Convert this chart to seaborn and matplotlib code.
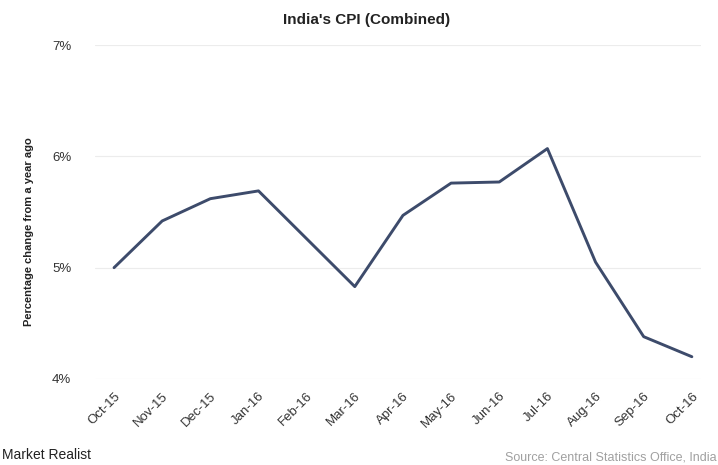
import matplotlib
matplotlib.use("Agg")
import matplotlib.pyplot as plt
import seaborn as sns
import pandas as pd

months = ["Oct-15", "Nov-15", "Dec-15", "Jan-16", "Feb-16", "Mar-16", "Apr-16",
          "May-16", "Jun-16", "Jul-16", "Aug-16", "Sep-16", "Oct-16"]
cpi = [5.00, 5.42, 5.62, 5.69, 5.26, 4.83, 5.47, 5.76, 5.77, 6.07, 5.05, 4.38, 4.20]
yticks = [4, 5, 6, 7]
ytick_labels = ["4%", "5%", "6%", "7%"]

sns.set_theme(style="white")
plt.rcParams['font.family'] = ['Liberation Sans', 'DejaVu Sans']

df = pd.DataFrame({"month": months, "cpi": cpi, "idx": range(len(months))})

fig = plt.figure(figsize=(7.18, 4.65), dpi=100)
ax = fig.add_axes([0.132, 0.185, 0.845, 0.718])
sns.lineplot(data=df, x="idx", y="cpi", ax=ax, color="#3d4b6b", linewidth=2.1)

ax.set_xlim(-0.4, len(months) - 1 + 0.2)
ax.set_ylim(4, 7)
ax.set_yticks(yticks)
ax.set_yticklabels(ytick_labels, fontsize=9.5, color="#333333")
ax.set_xticks(range(len(months)))
ax.set_xticklabels(months, rotation=45, ha="right", rotation_mode="anchor", fontsize=9.5, color="#333333")
ax.tick_params(axis="y", length=0, pad=17)
ax.tick_params(axis="x", length=0, pad=8)
ax.yaxis.grid(True, color="#ececec", linewidth=0.8)
ax.xaxis.grid(False)
for s in ax.spines.values():
    s.set_visible(False)
ax.set_xlabel("")
ax.set_ylabel("Percentage change from a year ago", fontsize=8, fontweight="bold", color="#222222")
ax.yaxis.set_label_coords(-0.1, 0.44)

fig.text(0.51, 0.958, "India's CPI (Combined)", ha="center", va="center", fontsize=11, fontweight="bold", color="#222222")
fig.text(0.003, 0.022, "Market Realist", ha="left", va="center", fontsize=10, color="#222222")
fig.text(0.998, 0.016, "Source: Central Statistics Office, India", ha="right", va="center", fontsize=9, color="#a0a0a0")

fig.savefig("out.png", dpi=100, facecolor="white")
